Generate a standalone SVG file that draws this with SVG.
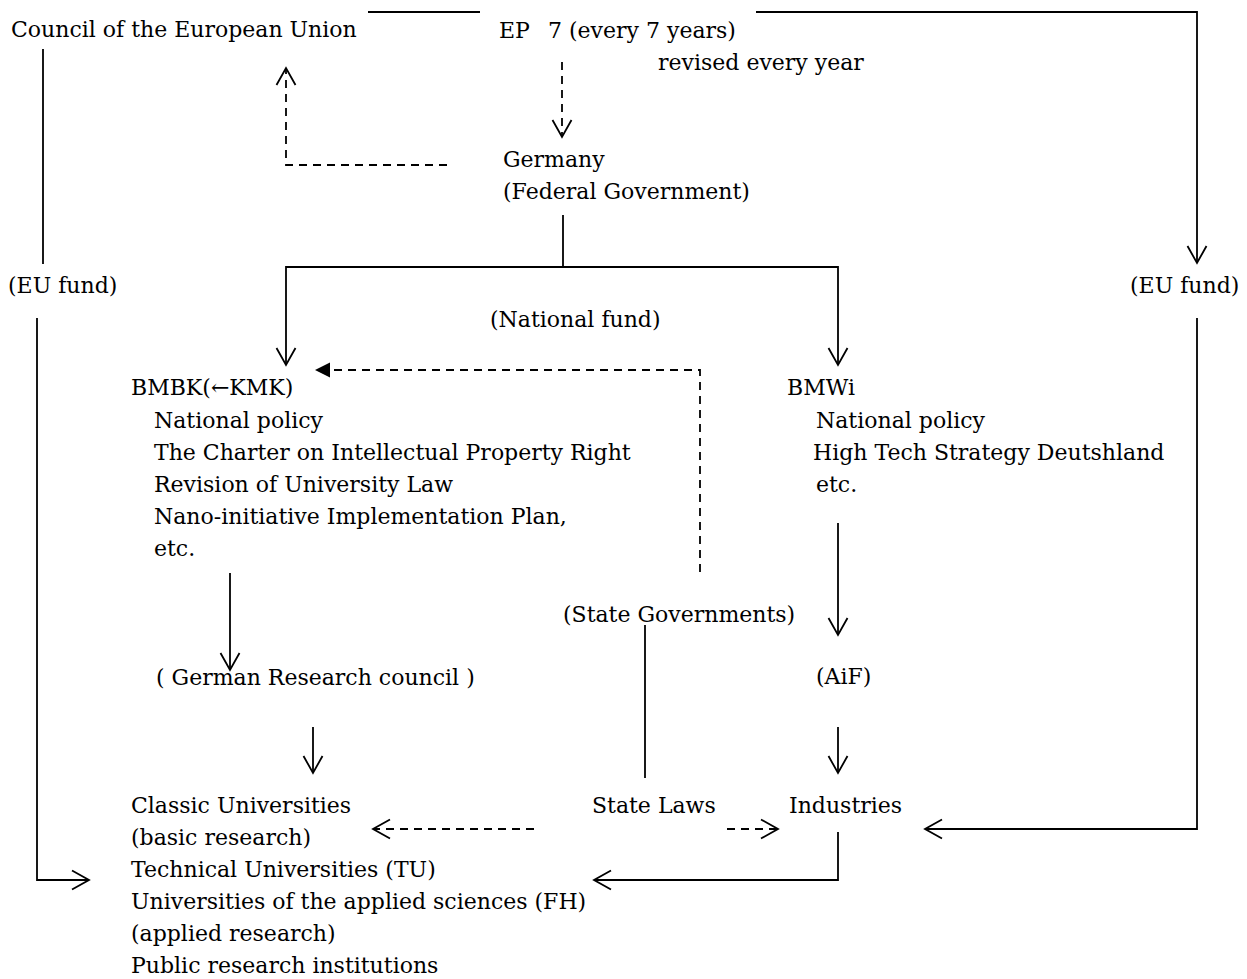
<svg xmlns="http://www.w3.org/2000/svg" width="1247" height="979" viewBox="0 0 1247 979">
<style>
text{font-family:"DejaVu Serif","Liberation Serif",serif;font-size:22px;fill:#000}
.c{fill:none;stroke:#000;stroke-width:1.8}
.d{stroke-dasharray:8 6}
</style>
<defs>
<marker id="open" viewBox="-20 -12 22 24" refX="0" refY="0" markerWidth="22" markerHeight="24" markerUnits="userSpaceOnUse" orient="auto">
<path d="M-17,-9.5 L0,0 L-17,9.5" fill="none" stroke="#000" stroke-width="1.8"/>
</marker>
<marker id="fill" viewBox="-17 -9 19 18" refX="0" refY="0" markerWidth="19" markerHeight="18" markerUnits="userSpaceOnUse" orient="auto">
<path d="M-15,-7.5 L0,0 L-15,7.5 Z" fill="#000"/>
</marker>
</defs>
<rect width="1247" height="979" fill="#fff"/>
<g id="connectors">
<path class="c" d="M368,12 H480"/>
<path class="c" d="M756,12 H1197 V263" marker-end="url(#open)"/>
<path class="c" d="M43,49 V264"/>
<path class="c d" d="M562,62 V137" marker-end="url(#open)"/>
<path class="c d" d="M447,165 H286 V68" marker-end="url(#open)"/>
<path class="c" d="M563,215 V267"/>
<path class="c" d="M563,267 H286 V365" marker-end="url(#open)"/>
<path class="c" d="M563,267 H838 V365" marker-end="url(#open)"/>
<path class="c d" d="M700,572 V370 H315" marker-end="url(#fill)"/>
<path class="c" d="M37,318 V880 H89" marker-end="url(#open)"/>
<path class="c" d="M1197,318 V829 H925" marker-end="url(#open)"/>
<path class="c" d="M230,573 V670" marker-end="url(#open)"/>
<path class="c" d="M838,523 V635" marker-end="url(#open)"/>
<path class="c" d="M645,625 V778"/>
<path class="c" d="M313,727 V773" marker-end="url(#open)"/>
<path class="c" d="M838,727 V773" marker-end="url(#open)"/>
<path class="c d" d="M534,829 H373" marker-end="url(#open)"/>
<path class="c d" d="M727,829 H778" marker-end="url(#open)"/>
<path class="c" d="M838,832 V880 H594" marker-end="url(#open)"/>
</g>
<g id="council"><text x="11" y="37">Council of the European Union</text></g>
<g id="ep"><text x="499" y="38">EP</text><text x="548" y="38">7 (every 7 years)</text><text x="658" y="70">revised every year</text></g>
<g id="germany"><text x="503" y="167">Germany</text><text x="503" y="199">(Federal Government)</text></g>
<g id="eu-fund-left"><text x="8" y="293">(EU fund)</text></g>
<g id="eu-fund-right"><text x="1130" y="293">(EU fund)</text></g>
<g id="national-fund"><text x="490" y="327">(National fund)</text></g>
<g id="bmbk">
<text x="131" y="395">BMBK(←KMK)</text>
<text x="154" y="428">National policy</text>
<text x="154" y="460">The Charter on Intellectual Property Right</text>
<text x="154" y="492">Revision of University Law</text>
<text x="154" y="524">Nano-initiative Implementation Plan,</text>
<text x="154" y="556">etc.</text>
</g>
<g id="bmwi">
<text x="787" y="395">BMWi</text>
<text x="816" y="428">National policy</text>
<text x="813" y="460">High Tech Strategy Deutshland</text>
<text x="816" y="492">etc.</text>
</g>
<g id="state-governments"><text x="563" y="622">(State Governments)</text></g>
<g id="research-council"><text x="156" y="685">( German Research council )</text></g>
<g id="aif"><text x="816" y="684">(AiF)</text></g>
<g id="universities">
<text x="131" y="813">Classic Universities</text>
<text x="131" y="845">(basic research)</text>
<text x="131" y="877">Technical Universities (TU)</text>
<text x="131" y="909">Universities of the applied sciences (FH)</text>
<text x="131" y="941">(applied research)</text>
<text x="131" y="973">Public research institutions</text>
</g>
<g id="state-laws"><text x="592" y="813">State Laws</text></g>
<g id="industries"><text x="789" y="813">Industries</text></g>
</svg>
